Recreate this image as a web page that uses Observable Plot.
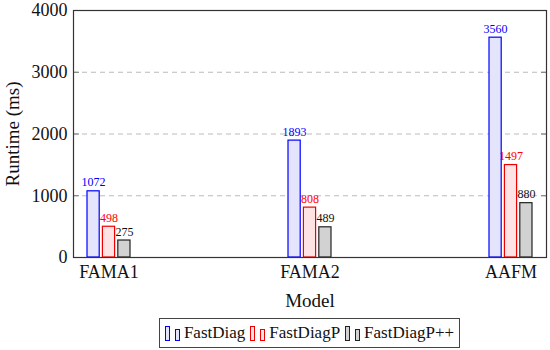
<!DOCTYPE html>
<html>
<head>
<meta charset="utf-8">
<script src="https://cdn.jsdelivr.net/npm/d3@7"></script>
<script src="https://cdn.jsdelivr.net/npm/@observablehq/plot@0.6"></script>
<style>
  body { margin: 0; background: #fff; font-family: "Liberation Serif", serif; }
  #chart svg, #chart svg text { font-family: "Liberation Serif", serif !important; }
  #legendWrap { display: flex; justify-content: center; padding-left: 73px; padding-right: 4px; margin-top: 4px; }
  #legend { border: 1px solid #444; display: flex; align-items: center; height: 28px; padding: 0 5px; font: 17px "Liberation Serif", serif; color: #111; }
  .icon { display: inline-flex; align-items: flex-end; height: 15px; margin-right: 4px; }
  .icon span { display: inline-block; width: 3px; border: 1.2px solid; margin-right: 5px; }
  .icon span:last-child { margin-right: 0; }
  .entry { display: flex; align-items: center; margin-right: 5px; }
  .entry:last-child { margin-right: 0; }
</style>
</head>
<body>
<div id="chart"></div>
<div id="legendWrap"><div id="legend"></div></div>
<script>
const models = ["FAMA1", "FAMA2", "AAFM"];
const series = ["FastDiag", "FastDiagP", "FastDiagP++"];
const fastDiag = [1072, 1893, 3560];
const fastDiagP = [498, 808, 1497];
const fastDiagPP = [275, 489, 880];
const yTicks = [0, 1000, 2000, 3000, 4000];
const gridTicks = [1000, 2000, 3000];
const yLabel = "Runtime (ms)";
const xLabel = "Model";

const values = [fastDiag, fastDiagP, fastDiagPP];
const strokes = ["#0000ff", "#ee0000", "#222222"];
const fills = ["#e4e4fd", "#fde3e3", "#d2d2d2"];
const labelColors = ["#0000ff", "#ff0000", "#111111"];

const pitch = 15.4;
const marks = [
  Plot.gridY(gridTicks, {stroke: "#bbbbbb", strokeOpacity: 1, strokeDasharray: "5,4", strokeWidth: 1})
];
series.forEach((s, i) => {
  const data = models.map((m, j) => ({model: m, series: s, value: values[i][j]}));
  marks.push(Plot.barY(data, {
    x: "model", y: "value",
    fill: fills[i], stroke: strokes[i], strokeWidth: 1.2,
    insetLeft: i * pitch, insetRight: (2 - i) * pitch
  }));
  marks.push(Plot.text(data, {
    x: "model", y: "value", text: d => String(d.value),
    dx: (i - 1) * pitch, dy: -5, lineAnchor: "bottom",
    fill: labelColors[i], fontSize: 12
  }));
});
marks.push(Plot.axisY(yTicks, {tickSize: 0, tickPadding: 6, tickFormat: d => String(d), label: yLabel, labelAnchor: "center", labelOffset: 68, labelArrow: "none"}));
marks.push(Plot.axisY(gridTicks, {anchor: "right", tickSize: 6, dx: -6, tickFormat: () => "", label: null, stroke: "#777"}));
marks.push(Plot.axisY(gridTicks, {anchor: "left", tickSize: 6, dx: 6, tickFormat: () => "", label: null, stroke: "#777"}));
marks.push(Plot.axisX({tickSize: 0, tickPadding: 8, label: xLabel, labelAnchor: "center", labelOffset: 49, labelArrow: "none"}));
marks.push(Plot.frame({stroke: "#333", strokeWidth: 1.2}));

const chart = Plot.plot({
  width: 550,
  height: 314,
  marginTop: 10,
  marginLeft: 73,
  marginRight: 4,
  marginBottom: 57,
  style: {fontFamily: "Liberation Serif, serif", fontSize: "18px", color: "#111", background: "#fff"},
  x: {type: "band", domain: models, paddingInner: 0.786, paddingOuter: 0.069},
  y: {domain: [0, 4000]},
  marks
});
d3.select(chart).selectAll("text")
  .filter(function () { return this.textContent === yLabel || this.textContent === xLabel; })
  .style("font-size", "19px");
document.getElementById("chart").appendChild(chart);

const legend = document.getElementById("legend");
series.forEach((s, i) => {
  const e = document.createElement("div");
  e.className = "entry";
  const icon = document.createElement("div");
  icon.className = "icon";
  [13, 10].forEach(h => {
    const b = document.createElement("span");
    b.style.height = h + "px";
    b.style.borderColor = strokes[i];
    b.style.background = fills[i];
    icon.appendChild(b);
  });
  e.appendChild(icon);
  const t = document.createElement("span");
  t.textContent = s;
  e.appendChild(t);
  legend.appendChild(e);
});
</script>
</body>
</html>
